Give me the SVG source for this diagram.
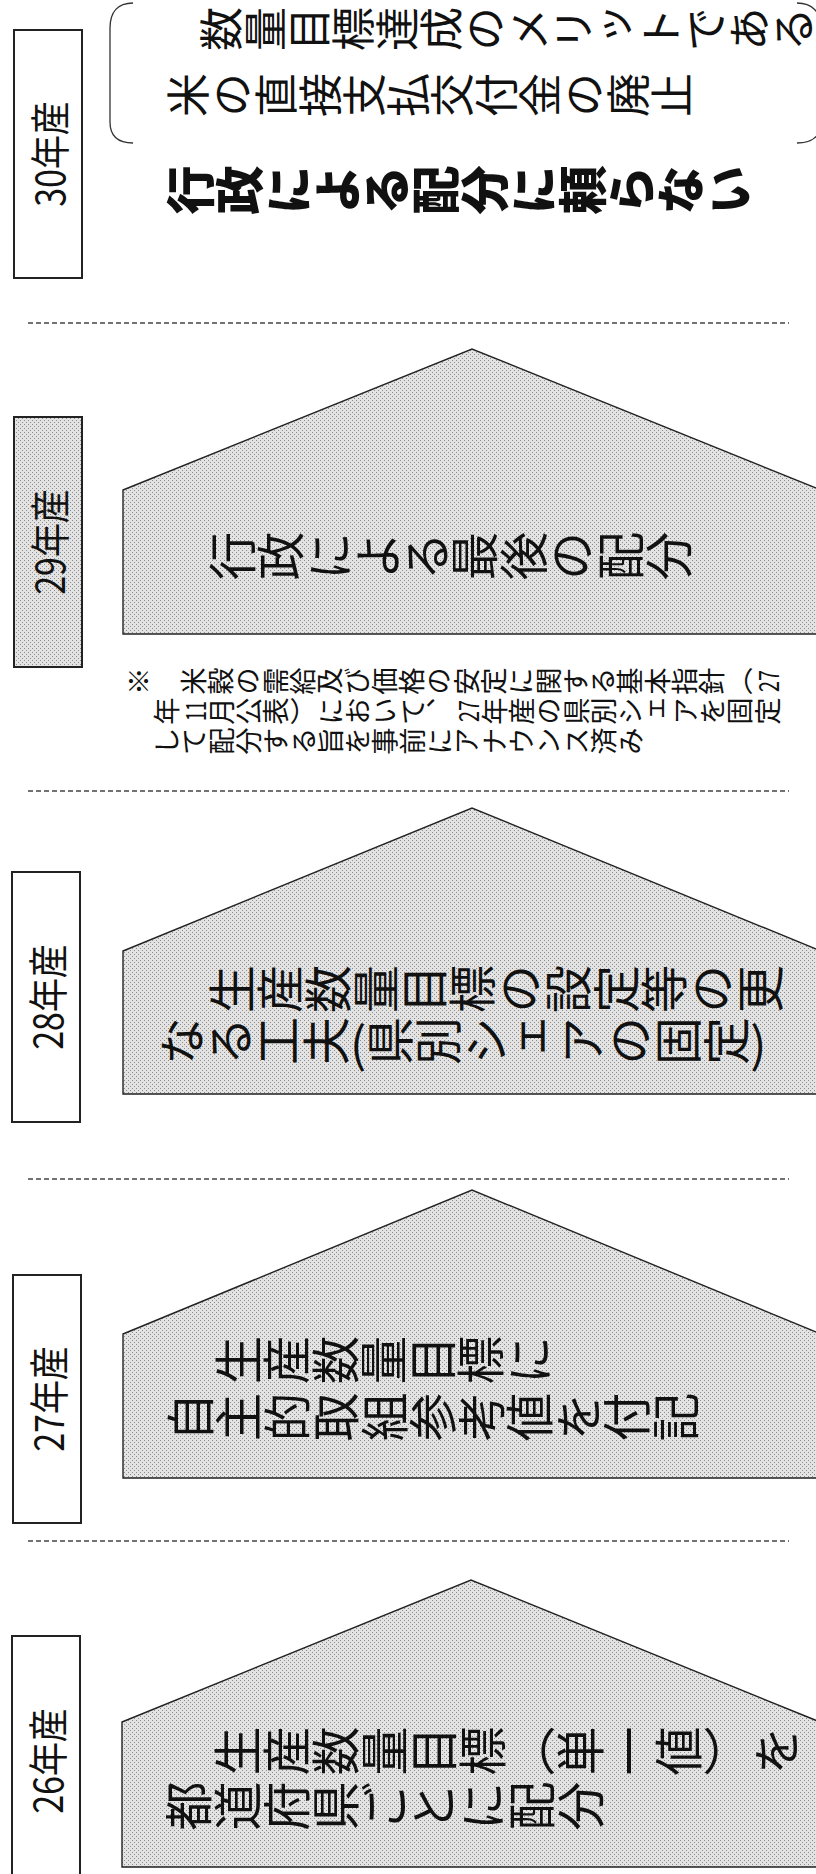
<svg xmlns="http://www.w3.org/2000/svg" width="816" height="1874" viewBox="0 0 816 1874">
<style>
.jp{font-family:"Noto Sans CJK JP","Noto Sans CJK SC",sans-serif;fill:#111;}
.v{writing-mode:vertical-rl;}
.tcy{text-anchor:middle;dominant-baseline:central;}
.lbl{font-family:"Noto Sans CJK JP",sans-serif;font-size:40px;fill:#111;text-anchor:middle;dominant-baseline:central;}
.box{stroke:#222;stroke-width:2;}
.house{fill:url(#dots);stroke:#222;stroke-width:1.4;}
.sep{fill:none;stroke:#444;stroke-width:1.3;stroke-dasharray:5 3;}
.brk{fill:none;stroke:#333;stroke-width:1.3;}
</style>
<defs>
<pattern id="dots" width="4" height="4" patternUnits="userSpaceOnUse">
<rect width="4" height="4" fill="#e3e3e3"/>
<rect x="0" y="0" width="1" height="1" fill="#8c8c8c"/>
<rect x="2" y="2" width="1" height="1" fill="#8c8c8c"/>
</pattern>
</defs>
<rect width="816" height="1874" fill="#fff"/>

<g id="separators">
<line class="sep" x1="28" y1="323" x2="789" y2="323"/>
<line class="sep" x1="28" y1="791" x2="789" y2="791"/>
<line class="sep" x1="28" y1="1179" x2="789" y2="1179"/>
<line class="sep" x1="28" y1="1541" x2="789" y2="1541"/>
</g>

<g id="node-30">
<rect class="box" x="14" y="30" width="68" height="248" fill="#fff"/>
<text class="lbl" transform="translate(48,154) rotate(-90) scale(0.85,1)">30年産</text>
<path class="brk" d="M133,3 C118,3 110,12 110,28 L110,122 C110,136 118,143 133,143"/>
<path class="brk" d="M797,3 C812,3 821,12 821,28 L821,122 C821,136 812,143 797,143"/>
<g transform="translate(199,29) rotate(-90)"><text class="jp v" x="0" y="0" font-size="44">数量目標達成のメリットである</text></g>
<g transform="translate(166,95) rotate(-90)"><text class="jp v" x="0" y="0" font-size="44">米の直接支払交付金の廃止</text></g>
<g transform="translate(166,190) rotate(-90)"><text class="jp v" x="0" y="0" font-size="49" font-weight="900">行政による配分に頼らない</text></g>
</g>

<g id="node-29">
<rect class="box" x="14" y="417" width="68" height="250" fill="url(#dots)"/>
<text class="lbl" transform="translate(48,542) rotate(-90) scale(0.85,1)">29年産</text>
<path class="house" d="M123,490 L472,349 L821,490 L821,634 L123,634 Z"/>
<g transform="translate(208,556) rotate(-90)"><text class="jp v" x="0" y="0" font-size="48.5">行政による最後の配分</text></g>
</g>

<g id="note-29">
<g transform="translate(125,681) rotate(-90)">
<text class="jp v" x="0" y="0" font-size="27.3">※　米穀の需給及び価格の安定に関する基本指針（</text>
<text class="jp tcy" x="0" y="641.6" font-size="27.3" textLength="22" lengthAdjust="spacingAndGlyphs">27</text>
</g>
<g transform="translate(153,711) rotate(-90)">
<text class="jp v" x="0" y="0" font-size="27.3">年</text>
<text class="jp tcy" x="0" y="40.95" font-size="27.3" textLength="20" lengthAdjust="spacingAndGlyphs">11</text>
<text class="jp v" x="0" y="54.6" font-size="27.3">月公表）において、</text>
<text class="jp tcy" x="0" y="313.95" font-size="27.3" textLength="22" lengthAdjust="spacingAndGlyphs">27</text>
<text class="jp v" x="0" y="327.6" font-size="27.3">年産の県別シェアを固定</text>
</g>
<g transform="translate(153,741) rotate(-90)">
<text class="jp v" x="0" y="0" font-size="27.3">して配分する旨を事前にアナウンス済み</text>
</g>
</g>

<g id="node-28">
<rect class="box" x="12" y="872" width="68" height="250" fill="#fff"/>
<text class="lbl" transform="translate(46,997) rotate(-90) scale(0.85,1)">28年産</text>
<path class="house" d="M123,951 L472,808 L821,951 L821,1094 L123,1094 Z"/>
<g transform="translate(208,989) rotate(-90)"><text class="jp v" x="0" y="0" font-size="48">生産数量目標の設定等の更</text></g>
<g transform="translate(158,1041) rotate(-90)"><text class="jp v" x="0" y="0" font-size="48">なる工夫(県別シェアの固定)</text></g>
</g>

<g id="node-27">
<rect class="box" x="13" y="1275" width="68" height="248" fill="#fff"/>
<text class="lbl" transform="translate(47,1399) rotate(-90) scale(0.85,1)">27年産</text>
<path class="house" d="M123,1334 L472,1190 L821,1334 L821,1478 L123,1478 Z"/>
<g transform="translate(214,1360) rotate(-90)"><text class="jp v" x="0" y="0" font-size="48.5">生産数量目標に</text></g>
<g transform="translate(166,1417) rotate(-90)"><text class="jp v" x="0" y="0" font-size="48.5">自主的取組参考値を付記</text></g>
</g>

<g id="node-26">
<rect class="box" x="12" y="1636" width="68" height="250" fill="#fff"/>
<text class="lbl" transform="translate(46,1761) rotate(-90) scale(0.85,1)">26年産</text>
<path class="house" d="M122,1722 L471,1580 L820,1722 L820,1867 L122,1867 Z"/>
<g transform="translate(213,1751) rotate(-90)"><text class="jp v" x="0" y="0" font-size="49">生産数量目標（単一値）を</text></g>
<g transform="translate(164,1806) rotate(-90)"><text class="jp v" x="0" y="0" font-size="49">都道府県ごとに配分</text></g>
</g>
</svg>
